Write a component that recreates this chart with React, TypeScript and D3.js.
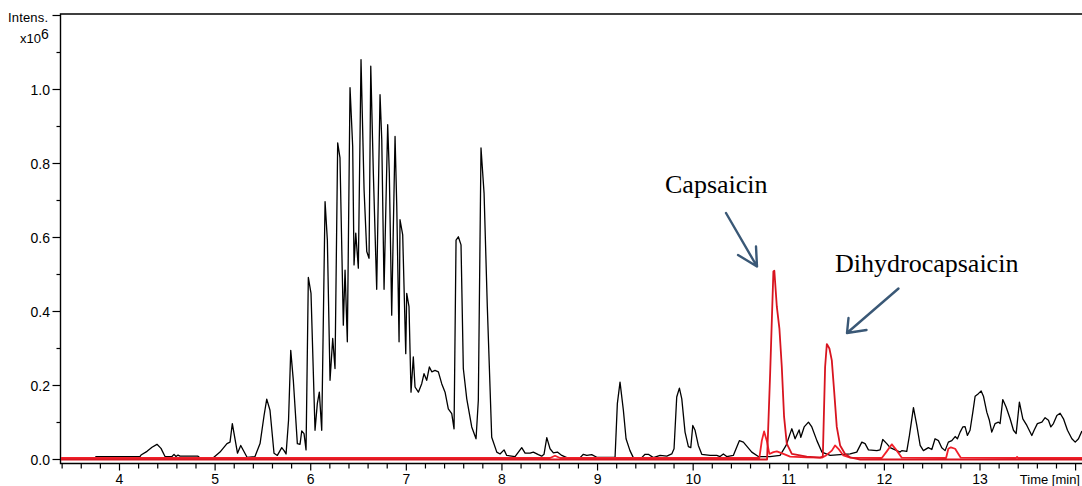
import React, { useEffect, useRef } from 'react';
import * as d3 from 'd3';

// total ion chromatogram (black), intensity in 1e6
const ticTime = [
  3.388, 3.744, 3.754, 4.214, 4.225, 4.288, 4.34, 4.392, 4.434, 4.476, 4.549, 4.57, 4.591, 4.612, 4.633,
  4.821, 4.842, 4.978, 5.051, 5.124, 5.156, 5.18, 5.234, 5.268, 5.334, 5.417, 5.47, 5.512, 5.54, 5.574,
  5.616, 5.651, 5.697, 5.721, 5.742, 5.768, 5.791, 5.818, 5.86, 5.888, 5.906, 5.93, 5.951, 5.975, 6.003,
  6.045, 6.069, 6.09, 6.115, 6.15, 6.174, 6.202, 6.23, 6.254, 6.282, 6.306, 6.341, 6.359, 6.383, 6.411,
  6.439, 6.453, 6.471, 6.498, 6.526, 6.558, 6.586, 6.61, 6.628, 6.655, 6.69, 6.725, 6.743, 6.767, 6.805,
  6.822, 6.847, 6.882, 6.9, 6.924, 6.934, 6.962, 6.994, 7.004, 7.028, 7.049, 7.073, 7.091, 7.126, 7.161,
  7.185, 7.213, 7.241, 7.266, 7.3, 7.335, 7.37, 7.405, 7.439, 7.475, 7.499, 7.52, 7.544, 7.572, 7.596,
  7.632, 7.684, 7.729, 7.753, 7.781, 7.813, 7.847, 7.893, 7.946, 7.98, 8.022, 8.05, 8.137, 8.207, 8.242,
  8.294, 8.328, 8.381, 8.416, 8.44, 8.469, 8.503, 8.538, 8.58, 8.626, 8.678, 8.817, 8.852, 8.887, 8.939,
  8.992, 9.183, 9.207, 9.235, 9.27, 9.298, 9.339, 9.374, 9.462, 9.497, 9.531, 9.584, 9.654, 9.724, 9.776,
  9.8, 9.828, 9.856, 9.881, 9.915, 9.95, 9.975, 9.996, 10.02, 10.054, 10.09, 10.177, 10.247, 10.281, 10.316,
  10.351, 10.42, 10.483, 10.525, 10.613, 10.682, 10.804, 10.909, 10.972, 11.014, 11.032, 11.066, 11.108, 11.126, 11.161,
  11.206, 11.241, 11.294, 11.346, 11.433, 11.642, 11.711, 11.764, 11.798, 11.833, 11.921, 11.955, 11.983, 12.025, 12.06,
  12.13, 12.164, 12.182, 12.234, 12.262, 12.304, 12.339, 12.374, 12.408, 12.46, 12.496, 12.53, 12.565, 12.6, 12.635,
  12.669, 12.705, 12.74, 12.764, 12.792, 12.82, 12.844, 12.868, 12.896, 12.925, 12.949, 12.983, 13.012, 13.036, 13.071,
  13.098, 13.123, 13.158, 13.192, 13.21, 13.238, 13.273, 13.315, 13.35, 13.378, 13.412, 13.448, 13.49, 13.542, 13.566,
  13.6, 13.647, 13.681, 13.716, 13.741, 13.768, 13.804, 13.838, 13.873, 13.915, 13.961, 13.996, 14.03, 14.066,
];
const ticValue = [
  0.004, 0.004, 0.008, 0.008, 0.012, 0.022, 0.033, 0.041, 0.03, 0.008, 0.008, 0.014, 0.008, 0.012, 0.009,
  0.009, 0.004, 0.004, 0.02, 0.043, 0.047, 0.097, 0.017, 0.038, 0.006, 0.008, 0.043, 0.119, 0.163, 0.133,
  0.017, 0.011, 0.032, 0.024, 0.015, 0.106, 0.295, 0.214, 0.043, 0.041, 0.077, 0.07, 0.026, 0.492, 0.449,
  0.079, 0.151, 0.182, 0.079, 0.697, 0.593, 0.214, 0.327, 0.246, 0.856, 0.815, 0.363, 0.512, 0.318, 1.005,
  0.846, 0.526, 0.612, 0.517, 1.081, 0.729, 0.562, 0.544, 1.063, 0.774, 0.46, 0.986, 0.864, 0.46, 0.905,
  0.774, 0.39, 0.873, 0.684, 0.318, 0.648, 0.607, 0.286, 0.449, 0.413, 0.182, 0.277, 0.196, 0.182, 0.205,
  0.232, 0.214, 0.25, 0.237, 0.241, 0.237, 0.205, 0.182, 0.137, 0.124, 0.083, 0.593, 0.602, 0.58, 0.246,
  0.164, 0.088, 0.056, 0.16, 0.842, 0.72, 0.413, 0.06, 0.02, 0.015, 0.026, 0.011, 0.008, 0.032, 0.017,
  0.017, 0.02, 0.013, 0.009, 0.014, 0.059, 0.029, 0.018, 0.02, 0.011, 0.005, 0.005, 0.014, 0.011, 0.013,
  0.006, 0.006, 0.151, 0.209, 0.133, 0.056, 0.024, 0.005, 0.005, 0.014, 0.014, 0.005, 0.011, 0.009, 0.015,
  0.029, 0.169, 0.193, 0.164, 0.074, 0.035, 0.032, 0.092, 0.079, 0.038, 0.014, 0.011, 0.011, 0.008, 0.015,
  0.008, 0.011, 0.051, 0.047, 0.02, 0.008, 0.008, 0.011, 0.038, 0.07, 0.083, 0.056, 0.08, 0.06, 0.088,
  0.101, 0.088, 0.051, 0.02, 0.011, 0.015, 0.02, 0.047, 0.043, 0.026, 0.024, 0.026, 0.054, 0.043, 0.032,
  0.024, 0.02, 0.024, 0.022, 0.065, 0.14, 0.092, 0.038, 0.024, 0.032, 0.027, 0.056, 0.051, 0.032, 0.024,
  0.047, 0.051, 0.062, 0.056, 0.074, 0.088, 0.089, 0.065, 0.079, 0.128, 0.171, 0.178, 0.185, 0.171, 0.128,
  0.106, 0.074, 0.097, 0.101, 0.097, 0.162, 0.142, 0.11, 0.079, 0.07, 0.155, 0.11, 0.092, 0.065, 0.079,
  0.097, 0.101, 0.113, 0.106, 0.088, 0.097, 0.119, 0.125, 0.11, 0.079, 0.056, 0.047, 0.056, 0.077,
];

// extracted ion chromatogram with the two main peaks (dark red)
const eicMainTime = [
  3.388, 10.773, 10.805, 10.839, 10.849, 10.875, 10.902, 10.927, 10.951, 10.979, 11.032, 11.188, 11.328,
  11.356, 11.38, 11.398, 11.425, 11.45, 11.474, 11.502, 11.537, 11.589, 11.642, 11.747, 14.068,
];
const eicMainValue = [
  0.0, 0.0, 0.232, 0.508, 0.51, 0.413, 0.354, 0.25, 0.115, 0.043, 0.015, 0.008, 0.005,
  0.008, 0.25, 0.312, 0.3, 0.268, 0.187, 0.088, 0.038, 0.015, 0.006, 0.0, 0.0,
];

// second extracted ion chromatogram (bright red)
const eicMinorTime = [
  3.388, 8.503, 8.555, 8.608, 10.692, 10.718, 10.742, 10.77, 10.797, 10.839, 10.875, 10.944, 11.014,
  11.188, 11.346, 11.39, 11.45, 11.484, 11.519, 11.571, 11.642, 11.973, 12.025, 12.078, 12.13, 12.182,
  12.645, 12.669, 12.695, 12.74, 12.774, 12.799, 13.378, 13.388, 13.399, 14.068,
];
const eicMinorValue = [
  0.004, 0.004, 0.01, 0.004, 0.004, 0.051, 0.076, 0.051, 0.015, 0.02, 0.022, 0.015, 0.008,
  0.006, 0.005, 0.011, 0.024, 0.038, 0.029, 0.011, 0.005, 0.004, 0.022, 0.041, 0.024, 0.005,
  0.004, 0.029, 0.033, 0.029, 0.015, 0.005, 0.004, 0.007, 0.004, 0.004,
];

const xTickLabels = [4, 5, 6, 7, 8, 9, 10, 11, 12, 13];
const yTickLabels = [0.0, 0.2, 0.4, 0.6, 0.8, 1.0];

const width = 1082;
const height = 486;

const App = () => {
  const ref = useRef<SVGSVGElement>(null);

  useEffect(() => {
    const svg = d3.select(ref.current);
    svg.selectAll('*').remove();

    const x = d3.scaleLinear().domain([4, 13]).range([119.5, 980]);
    const y = d3.scaleLinear().domain([0, 1.2]).range([459.5, 15.5]);

    const left = 60.5;
    const right = width;
    const axisY = 463.5;
    const font = 'Arial, "Liberation Sans", sans-serif';

    // frame: left axis + top line
    svg.append('path')
      .attr('d', `M${right},${14} H${left} V${axisY} H${right}`)
      .attr('fill', 'none')
      .attr('stroke', '#000')
      .attr('stroke-width', 1.4);

    // y ticks (major every 0.2, minor every 0.1)
    const yMinor = d3.range(0, 13).map(i => i / 10);
    svg.append('g').selectAll('line')
      .data(yMinor)
      .join('line')
        .attr('x1', (d, i) => (i % 2 === 0 ? left - 8 : left - 4))
        .attr('x2', left)
        .attr('y1', d => y(d))
        .attr('y2', d => y(d))
        .attr('stroke', '#000')
        .attr('stroke-width', 1.2);

    svg.append('g').selectAll('text')
      .data(yTickLabels)
      .join('text')
        .attr('x', 50)
        .attr('y', d => y(d) + 5)
        .attr('text-anchor', 'end')
        .style('font', `14px ${font}`)
        .text(d => d.toFixed(1));

    // x ticks (major every 1, minor every 0.2)
    const xMinor = d3.range(17, 71).map(i => i / 5);
    svg.append('g').selectAll('line')
      .data(xMinor)
      .join('line')
        .attr('x1', d => x(d))
        .attr('x2', d => x(d))
        .attr('y1', axisY)
        .attr('y2', d => (Math.abs(d - Math.round(d)) < 1e-6 ? axisY + 7 : axisY + 5))
        .attr('stroke', '#000')
        .attr('stroke-width', 1.2);

    svg.append('g').selectAll('text')
      .data(xTickLabels)
      .join('text')
        .attr('x', d => x(d))
        .attr('y', 484)
        .attr('text-anchor', 'middle')
        .style('font', `14px ${font}`)
        .text(d => d);

    svg.append('text')
      .attr('x', 1080)
      .attr('y', 484)
      .attr('text-anchor', 'end')
      .style('font', `13px ${font}`)
      .text('Time [min]');

    svg.append('text')
      .attr('x', 8)
      .attr('y', 22)
      .style('font', `13px ${font}`)
      .attr('textLength', 40)
      .text('Intens.');

    const exp = svg.append('text')
      .attr('x', 20)
      .attr('y', 43)
      .style('font', `13px ${font}`);
    exp.append('tspan').text('x10');
    exp.append('tspan').attr('dy', -4).style('font-size', '14px').text('6');

    // traces
    const line = d3.line<[number, number]>()
      .x(d => x(d[0]))
      .y(d => y(d[1]));

    const traces = [
      { t: ticTime, v: ticValue, color: '#000', w: 1.3 },
      { t: eicMinorTime, v: eicMinorValue, color: '#f2202a', w: 1.8 },
      { t: eicMainTime, v: eicMainValue, color: '#d8141f', w: 1.8 },
    ];
    traces.forEach(tr => {
      svg.append('path')
        .datum(tr.t.map((t, i) => [t, tr.v[i]] as [number, number]))
        .attr('fill', 'none')
        .attr('stroke', tr.color)
        .attr('stroke-width', tr.w)
        .attr('stroke-linejoin', 'round')
        .attr('d', line);
    });

    // annotations
    const serif = '"Liberation Serif", "Times New Roman", serif';
    svg.append('text')
      .attr('x', 665)
      .attr('y', 193)
      .style('font', `26px ${serif}`)
      .text('Capsaicin');
    svg.append('text')
      .attr('x', 835)
      .attr('y', 272)
      .style('font', `26px ${serif}`)
      .text('Dihydrocapsaicin');

    const arrows = [
      { from: [726, 213], to: [757, 266.5], a1: [738, 255], a2: [756, 246.5] },
      { from: [898.5, 288.5], to: [847, 333], a1: [848.5, 318], a2: [866.5, 330] },
    ];
    arrows.forEach(a => {
      svg.append('path')
        .attr('d', `M${a.from} L${a.to} M${a.a1} L${a.to} L${a.a2}`)
        .attr('fill', 'none')
        .attr('stroke', '#3a5876')
        .attr('stroke-width', 2.4)
        .attr('stroke-linecap', 'round')
        .attr('stroke-linejoin', 'round');
    });
  }, []);

  return (
    <svg
      ref={ref}
      width={width}
      height={height}
      style={{ position: 'absolute', left: 0, top: 0, background: '#fff' }}
    />
  );
};

export default App;
